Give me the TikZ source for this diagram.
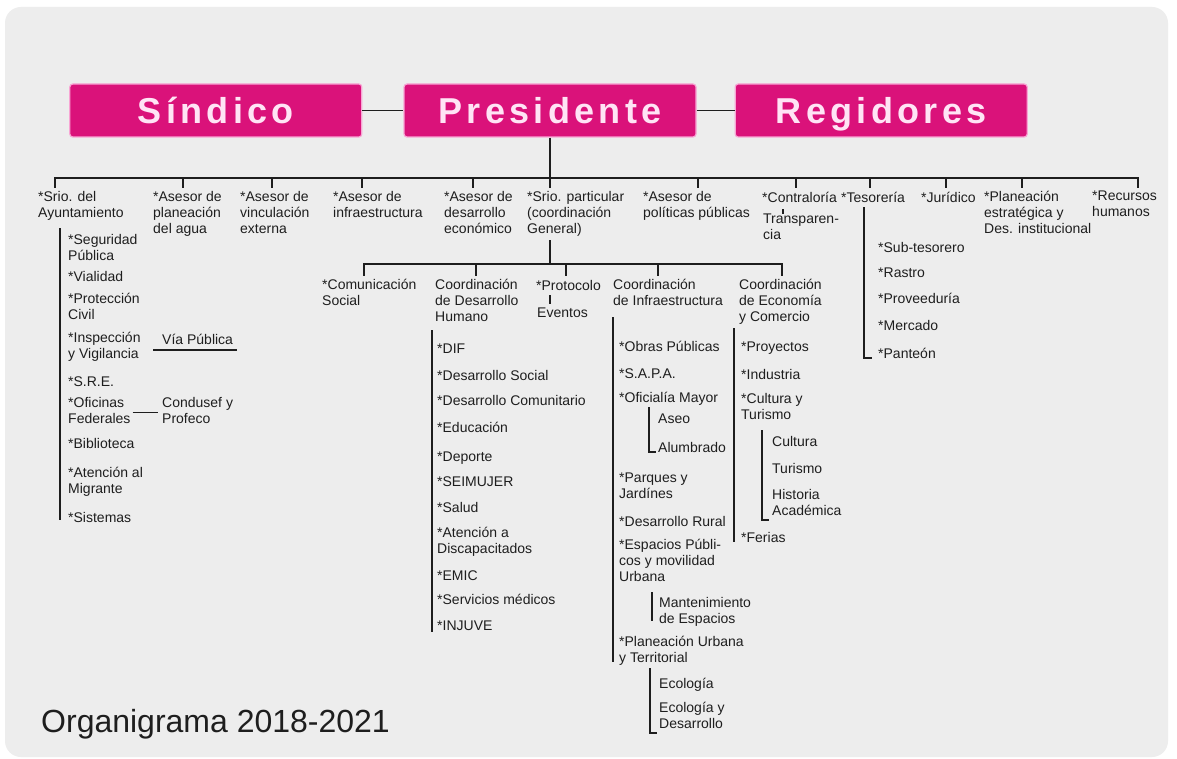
\documentclass[tikz,border=0pt]{standalone}
\usepackage{fontspec}
\setmainfont{Liberation Sans}
\newfontfamily\headfont[LetterSpace=12]{Liberation Sans}
\usetikzlibrary{positioning}
\definecolor{orgmagenta}{RGB}{218,18,122}
\definecolor{orgglow}{RGB}{248,165,212}
\definecolor{orgpanel}{RGB}{237,237,237}
\definecolor{orgtext}{RGB}{30,30,30}
\definecolor{headtext}{RGB}{255,228,245}

\begin{document}
\begin{tikzpicture}[x=1pt,y=-1pt,
  head/.style={rectangle,rounded corners=3pt,fill=orgmagenta,draw=orgglow,
    line width=1.2pt,minimum width=292pt,minimum height=53pt,
    text height=26pt,text depth=0pt,
    font=\headfont\bfseries\fontsize{36}{40}\selectfont,text=headtext},
  item/.style={anchor=north west,yshift=11.2pt,inner sep=0pt,align=left,
    font=\fontsize{14}{16}\selectfont,text=orgtext,
    execute at begin node=\strut},
  conn/.style={draw=orgtext,line width=1.8pt}
]
  \useasboundingbox (0,0) rectangle (1177,759);
  \fill[white] (0,0) rectangle (1177,759);
  \fill[orgpanel,rounded corners=16pt] (5,7) rectangle (1168,757);

  \node[head] (pres) at (550,110.5) {Presidente};
  \node[head,left=41pt of pres] (sind) {Síndico};
  \node[head,right=38pt of pres] (regi) {Regidores};
  \draw[conn] (sind) -- (pres);
  \draw[conn] (pres) -- (regi);

  \coordinate (busA) at (55,178);
  \coordinate (busB) at (1138,178);
  \draw[conn] (pres.south) -- (pres.south |- busA);
  \draw[conn,line cap=rect] (busA) -- (busB);

  \node[item] (srio) at (38,202) {*Srio. del\\Ayuntamiento};
  \node[item] (agua) at (153,202) {*Asesor de\\planeación\\del agua};
  \node[item] (vinc) at (240,202) {*Asesor de\\vinculación\\externa};
  \node[item] (infra) at (333,202) {*Asesor de\\infraestructura};
  \node[item] (deseco) at (444,202) {*Asesor de\\desarrollo\\económico};
  \node[item] (part) at (527,202) {*Srio. particular\\(coordinación\\General)};
  \node[item] (polit) at (643,202) {*Asesor de\\políticas públicas};
  \node[item] (contra) at (762,202) {*Contraloría};
  \node[item] (transp) at (763,225) {Transparen-\\cia};
  \node[item] (teso) at (841,202) {*Tesorería};
  \node[item] (jur) at (921,202) {*Jurídico};
  \node[item] (plan) at (984,202) {*Planeación\\estratégica y\\Des. institucional};
  \node[item] (rrhh) at (1092,202) {*Recursos\\humanos};
  \foreach \x/\n in {55/srio,183/agua,272/vinc,362/infra,473/deseco,550/part,
    698/polit,796/contra,870/teso,946/jur,1022/plan,1138/rrhh}
    \draw[conn,shorten >=3pt] (\x,0 |- busA) -- (\x,0 |- \n.north);
  \draw[conn,shorten <=2pt] (783,0 |- contra.south) -- (783,0 |- transp.north);

  \node[item] (segu) at (68,245) {*Seguridad\\Pública};
  \node[item] (vial) at (68,281) {*Vialidad};
  \node[item] (prot) at (68,304) {*Protección\\Civil};
  \node[item] (insp) at (68,343) {*Inspección\\y Vigilancia};
  \node[item] (via) at (162,344) {Vía Pública};
  \node[item] (sre) at (68,386) {*S.R.E.};
  \node[item] (ofic) at (68,408) {*Oficinas\\Federales};
  \node[item] (cond) at (162,408) {Condusef y\\Profeco};
  \node[item] (bibl) at (68,448) {*Biblioteca};
  \node[item] (migr) at (68,478) {*Atención al\\Migrante};
  \node[item] (sist) at (68,522) {*Sistemas};
  \draw[conn,shorten <=6pt,shorten >=2pt] (60,0 |- srio.south) -- (60,0 |- sist.base);
  \draw[conn] ([xshift=-9pt,yshift=-6pt]via.base west) -- ([xshift=4pt,yshift=-6pt]via.base east);
  \draw[conn,shorten <=2pt,shorten >=4pt] (ofic.east) -- (ofic.east -| cond.west);

  \coordinate (busC) at (364,264);
  \coordinate (busD) at (782,264);
  \draw[conn,shorten <=2pt] (550,0 |- part.south) -- (550,0 |- busC);
  \draw[conn,line cap=rect] (busC) -- (busD);
  \node[item] (com) at (322,290) {*Comunicación\\Social};
  \node[item] (cdh) at (435,290) {Coordinación\\de Desarrollo\\Humano};
  \node[item] (proto) at (536,290) {*Protocolo};
  \node[item] (even) at (537,317) {Eventos};
  \node[item] (cinf) at (613,290) {Coordinación\\de Infraestructura};
  \node[item] (ceco) at (739,290) {Coordinación\\de Economía\\y Comercio};
  \foreach \x/\n in {364/com,476/cdh,566/proto,658/cinf,782/ceco}
    \draw[conn,shorten >=3pt] (\x,0 |- busC) -- (\x,0 |- \n.north);
  \draw[conn,shorten >=2pt] (550,0 |- proto.south) -- (550,0 |- even.north);

  \node[item] (dif) at (437,353) {*DIF};
  \node[item] (dsoc) at (437,380) {*Desarrollo Social};
  \node[item] (dcom) at (437,405) {*Desarrollo Comunitario};
  \node[item] (educ) at (437,432) {*Educación};
  \node[item] (depo) at (437,461) {*Deporte};
  \node[item] (seim) at (437,486) {*SEIMUJER};
  \node[item] (salu) at (437,512) {*Salud};
  \node[item] (disc) at (437,538) {*Atención a\\Discapacitados};
  \node[item] (emic) at (437,580) {*EMIC};
  \node[item] (serv) at (437,604) {*Servicios médicos};
  \node[item] (inju) at (437,630) {*INJUVE};
  \draw[conn,shorten <=4pt,shorten >=-2pt] (432,0 |- cdh.south) -- (432,0 |- inju.base);

  \node[item] (obra) at (619,351) {*Obras Públicas};
  \node[item] (sapa) at (619,378) {*S.A.P.A.};
  \node[item] (ofma) at (619,402) {*Oficialía Mayor};
  \node[item] (aseo) at (658,423) {Aseo};
  \node[item] (alum) at (658,452) {Alumbrado};
  \node[item] (parq) at (619,484) {*Parques y\\Jardínes};
  \node[item] (drur) at (619,526) {*Desarrollo Rural};
  \node[item] (espa) at (619,550) {*Espacios Públi-\\cos y movilidad\\Urbana};
  \node[item] (mant) at (659,608) {Mantenimiento\\de Espacios};
  \node[item] (plur) at (619,647) {*Planeación Urbana\\y Territorial};
  \node[item] (ecol) at (659,688) {Ecología};
  \node[item] (ecod) at (659,713) {Ecología y\\Desarrollo};
  \draw[conn,shorten <=7pt,shorten >=5pt] (613,0 |- cinf.south) -- (613,0 |- plur.south);
  \draw[conn] (649,0 |- ofma.south) |- ([xshift=-2pt]alum.base west);
  \draw[conn,shorten <=6pt,shorten >=2pt] (652,0 |- espa.south) -- (652,0 |- mant.base);
  \draw[conn,shorten <=1pt] (650,0 |- plur.south) |- ([xshift=-2pt]ecod.south west);

  \node[item] (proy) at (741,351) {*Proyectos};
  \node[item] (indu) at (741,379) {*Industria};
  \node[item] (cutu) at (741,404) {*Cultura y\\Turismo};
  \node[item] (cult) at (772,446) {Cultura};
  \node[item] (turi) at (772,473) {Turismo};
  \node[item] (hist) at (772,500) {Historia\\Académica};
  \node[item] (feri) at (741,542) {*Ferias};
  \draw[conn,shorten <=2pt] (734,0 |- ceco.south) -- (734,0 |- feri.base);
  \draw[conn,shorten <=6pt] (762,0 |- cutu.south) |- ([xshift=-3pt]hist.south west);

  \node[item] (subt) at (878,252) {*Sub-tesorero};
  \node[item] (rast) at (878,277) {*Rastro};
  \node[item] (prov) at (878,303) {*Proveeduría};
  \node[item] (merc) at (878,330) {*Mercado};
  \node[item] (pant) at (878,358) {*Panteón};
  \draw[conn] (864,0 |- teso.south) |- ([xshift=-6pt]pant.base west);

  \node[anchor=base west,inner sep=0pt,font=\fontsize{32}{36}\selectfont,
    text=orgtext] (titl) at (41,732) {Organigrama 2018-2021};
\end{tikzpicture}
\end{document}
